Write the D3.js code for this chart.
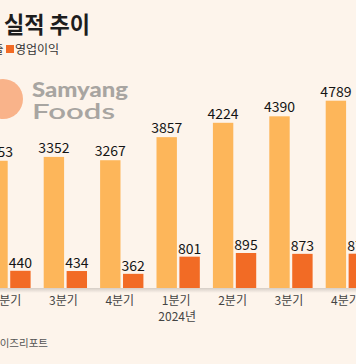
<!DOCTYPE html>
<html><head><meta charset="utf-8">
<script src="https://cdn.jsdelivr.net/npm/d3@7"></script>
<style>
html,body{margin:0;padding:0;background:#FDF4EB;overflow:hidden}
svg{display:block}
</style></head>
<body>
<script>
// ---- data ----
const quarters = ["2분기","3분기","4분기","1분기","2분기","3분기","4분기"];
const yearLabels = ["","","","2024년","","",""];
const revenue = [3253, 3352, 3267, 3857, 4224, 4390, 4789];   // 매출
const opProfit = [440, 434, 362, 801, 895, 873, 877];          // 영업이익
const seriesNames = ["매출","영업이익"];
const titleText = ["삼양식품", "실적 추이"];
const sourceText = "그래픽: 아이즈리포트";

const W = 356, H = 364;
const colors = {rev:"#FDB65A", op:"#F26B25", bg:"#FDF4EB"};
const font = "'Noto Sans CJK KR','Noto Sans',sans-serif";

const svg = d3.select("body").append("svg").attr("width", W).attr("height", H);
svg.append("rect").attr("width", W).attr("height", H).attr("fill", colors.bg);

const defs = svg.append("defs");
const g1 = defs.append("linearGradient").attr("id","shadow").attr("x1",0).attr("y1",0).attr("x2",0).attr("y2",1);
g1.append("stop").attr("offset","0%").attr("stop-color","#000").attr("stop-opacity",0.16);
g1.append("stop").attr("offset","100%").attr("stop-color","#000").attr("stop-opacity",0);

// ---- logo ----
svg.append("circle").attr("cx", 3).attr("cy", 99).attr("r", 20).attr("fill", "#F9B38A");
svg.append("text").attr("x", 32).attr("y", 96.5).text("Samyang")
  .attr("font-family","Lato,'Open Sans',sans-serif").attr("font-weight",900)
  .attr("font-size",21).attr("fill","#A8A5A1")
  .attr("textLength",96).attr("lengthAdjust","spacingAndGlyphs");
svg.append("text").attr("x", 32).attr("y", 118.5).text("Foods")
  .attr("font-family","Lato,'Open Sans',sans-serif").attr("font-weight",600)
  .attr("font-size",21.5).attr("fill","#A8A5A1")
  .attr("textLength",83).attr("lengthAdjust","spacingAndGlyphs");

// ---- title ----
svg.append("text").attr("x", -2).attr("y", 33).attr("text-anchor","end").text(titleText[0])
  .attr("font-family",font).attr("font-weight",700).attr("font-size",23).attr("fill","#1d1d1d");
svg.append("text").attr("x", 4).attr("y", 33).text(titleText[1])
  .attr("font-family",font).attr("font-weight",700).attr("font-size",23).attr("fill","#1d1d1d")
  .attr("textLength",86).attr("lengthAdjust","spacingAndGlyphs");

// ---- legend ----
svg.append("text").attr("x", 3.5).attr("y", 53.5).attr("text-anchor","end").text(seriesNames[0])
  .attr("font-family",font).attr("font-size",12).attr("fill","#333");
svg.append("rect").attr("x", 6).attr("y", 45).attr("width", 8).attr("height", 8).attr("fill", colors.op);
svg.append("text").attr("x", 15).attr("y", 54).text(seriesNames[1])
  .attr("font-family",font).attr("font-size",12).attr("fill","#333");

// ---- scales ----
const baseY = 288;
const y = d3.scaleLinear().domain([0, 4789]).range([baseY, baseY - 187.3]);
const step = 56.4, p = 0.232;
const x0start = -12.7 - step * p / 2;
const x = d3.scaleBand().domain(d3.range(quarters.length))
  .range([x0start, x0start + step * quarters.length])
  .paddingInner(p).paddingOuter(p / 2);
const xs = d3.scaleBand().domain(["rev","op"]).range([0, x.bandwidth()]).paddingInner(0.11);

// baseline shadow
svg.append("rect").attr("x", 0).attr("y", baseY).attr("width", W).attr("height", 5).attr("fill","url(#shadow)");

const groups = svg.append("g").selectAll("g").data(quarters).join("g")
  .attr("transform", (d,i) => `translate(${x(i)},0)`);

groups.append("rect").attr("x", xs("rev")).attr("width", xs.bandwidth())
  .attr("y", (d,i) => y(revenue[i])).attr("height", (d,i) => baseY - y(revenue[i]))
  .attr("fill", colors.rev);
groups.append("rect").attr("x", xs("op")).attr("width", xs.bandwidth())
  .attr("y", (d,i) => y(opProfit[i])).attr("height", (d,i) => baseY - y(opProfit[i]))
  .attr("fill", colors.op);

groups.append("text").attr("x", xs("rev") + xs.bandwidth()/2).attr("y", (d,i) => y(revenue[i]) - 4)
  .attr("text-anchor","middle").text((d,i) => revenue[i])
  .attr("font-family",font).attr("font-size",14).attr("fill","#151515");
groups.append("text").attr("x", xs("op") + xs.bandwidth()/2).attr("y", (d,i) => y(opProfit[i]) - 3)
  .attr("text-anchor","middle").text((d,i) => opProfit[i])
  .attr("font-family",font).attr("font-size",14).attr("fill","#151515");

// x axis labels
groups.append("text").attr("x", x.bandwidth()/2 - 2).attr("y", 304.5)
  .attr("text-anchor","middle").text(d => d)
  .attr("font-family",font).attr("font-size",12).attr("fill","#444");
groups.append("text").attr("x", x.bandwidth()/2 - 1).attr("y", 320.5)
  .attr("text-anchor","middle").text((d,i) => yearLabels[i])
  .attr("font-family",font).attr("font-size",12).attr("fill","#444");

// ---- source ----
svg.append("text").attr("x", 48).attr("y", 347).attr("text-anchor","end").text(sourceText)
  .attr("font-family",font).attr("font-size",10.5).attr("fill","#555");
</script>
</body></html>
